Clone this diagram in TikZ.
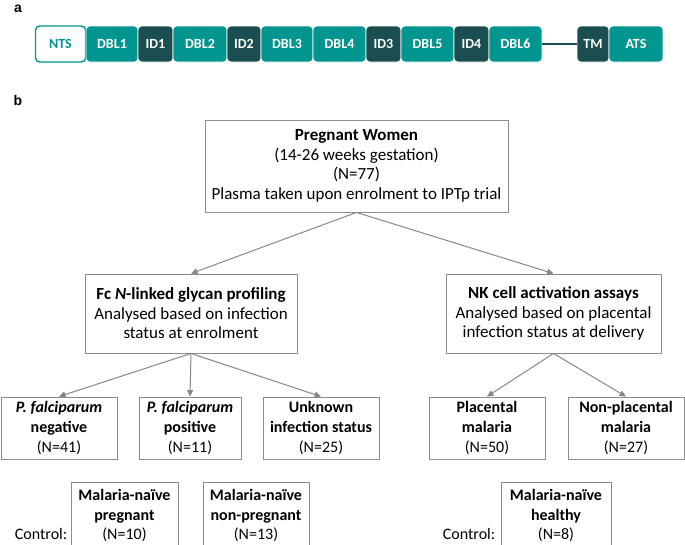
\documentclass[tikz,border=0pt]{standalone}
\usepackage{fontspec}
\setmainfont{Carlito}
\newfontfamily\panelfont{Liberation Sans}
\usepackage{xcolor}
\usetikzlibrary{arrows.meta, positioning}

\definecolor{domteal}{RGB}{0,149,142}
\definecolor{domdark}{RGB}{26,78,81}
\definecolor{flowgray}{RGB}{135,135,135}
\definecolor{edgegray}{RGB}{140,140,140}

\begin{document}
\begin{tikzpicture}[x=1pt, y=-1pt,
    dom/.style={fill=domteal, draw=white, line width=0.6pt, rounded corners=4pt,
        text=white, font=\fontsize{14}{16}\selectfont\bfseries,
        minimum height=36pt, inner sep=0pt},
    idom/.style={dom, fill=domdark},
    flowbox/.style={draw=edgegray, line width=0.9pt, align=center, inner sep=0pt,
        font=\fontsize{17}{19.5}\selectfont},
    groupbox/.style={flowbox, font=\fontsize{16}{20}\selectfont, minimum height=62pt},
    ctrlbox/.style={flowbox, anchor=north, font=\fontsize{16}{19.5}\selectfont,
        inner ysep=7pt, text depth=22pt},
    ctrllabel/.style={font=\fontsize{16}{19}\selectfont},
    panel/.style={font=\panelfont\fontsize{14}{16}\selectfont\bfseries},
    flowarrow/.style={-{Triangle[length=6.5pt,width=6pt]}, draw=flowgray, line width=1pt}]

    \clip (0,0) rectangle (685,544);

    % panel a: domain layout
    \node[panel] (pa) at (18,9) {a};
    \node[dom, fill=white, draw=domteal, text=domteal, line width=1.4pt, minimum width=50pt] (nts) at (60.5,44) {NTS};
    \node[dom, minimum width=52pt] (dbl1) at (112,44) {DBL1};
    \node[idom, minimum width=35pt] (id1) at (155.5,44) {ID1};
    \node[dom, minimum width=54pt] (dbl2) at (200,44) {DBL2};
    \node[idom, minimum width=34pt] (id2) at (244,44) {ID2};
    \node[dom, minimum width=52pt] (dbl3) at (287,44) {DBL3};
    \node[dom, minimum width=53pt] (dbl4) at (339.5,44) {DBL4};
    \node[idom, minimum width=35pt] (id3) at (383.5,44) {ID3};
    \node[dom, minimum width=53pt] (dbl5) at (427.5,44) {DBL5};
    \node[idom, minimum width=35pt] (id4) at (471.5,44) {ID4};
    \node[dom, minimum width=53pt] (dbl6) at (515.5,44) {DBL6};
    \node[idom, minimum width=32pt] (tm) at (593,44) {TM};
    \node[dom, minimum width=54pt] (ats) at (636,44) {ATS};
    \draw[domdark, line width=2pt] (dbl6.east) -- (tm.west);

    % panel b: study flow
    \node[panel] (pb) at (18,100) {b};
    \node[flowbox, minimum width=303pt, minimum height=92pt] (women) at (356.5,166)
        {\textbf{Pregnant Women}\\(14-26 weeks gestation)\\(N=77)\\Plasma taken upon enrolment to IPTp trial};

    \node[flowbox, minimum width=212pt, minimum height=79pt] (glycan) at (191,313.5)
        {\textbf{Fc \textit{N}-linked glycan profiling}\\Analysed based on infection\\status at enrolment};
    \node[flowbox, minimum width=215pt, minimum height=79pt] (nkcell) at (553.5,313.5)
        {\textbf{NK cell activation assays}\\Analysed based on placental\\infection status at delivery};

    \node[groupbox, minimum width=116pt] (pfneg) at (59,428)
        {\textbf{\textit{P. falciparum}}\\\textbf{negative}\\(N=41)};
    \node[groupbox, minimum width=102pt] (pfpos) at (190,428)
        {\textbf{\textit{P. falciparum}}\\\textbf{positive}\\(N=11)};
    \node[groupbox, minimum width=116pt] (unknown) at (321,428)
        {\textbf{Unknown}\\\textbf{infection status}\\(N=25)};
    \node[groupbox, minimum width=116pt] (placental) at (487,428)
        {\textbf{Placental}\\\textbf{malaria}\\(N=50)};
    \node[groupbox, minimum width=116pt] (nonplacental) at (626,428)
        {\textbf{Non-placental}\\\textbf{malaria}\\(N=27)};

    \node[ctrlbox, minimum width=107pt] (naivepreg) at (124.5,482)
        {\textbf{Malaria-naïve}\\\textbf{pregnant}\\(N=10)};
    \node[ctrlbox, minimum width=106pt] (naivenonpreg) at (256,482)
        {\textbf{Malaria-naïve}\\\textbf{non-pregnant}\\(N=13)};
    \node[ctrlbox, minimum width=110pt] (naivehealthy) at (556,482)
        {\textbf{Malaria-naïve}\\\textbf{healthy}\\(N=8)};
    \node[ctrllabel] (ctrlleft) at (41,534) {Control:};
    \node[ctrllabel] (ctrlright) at (469,534) {Control:};

    \draw[flowarrow] (women.south) -- (glycan.north);
    \draw[flowarrow] (women.south) -- (nkcell.north);
    \draw[flowarrow] (glycan.south) -- (pfneg.north);
    \draw[flowarrow] (glycan.south) -- (pfpos.north);
    \draw[flowarrow] (glycan.south) -- (unknown.north);
    \draw[flowarrow] (nkcell.south) -- (placental.north);
    \draw[flowarrow] (nkcell.south) -- (nonplacental.north);
\end{tikzpicture}
\end{document}
